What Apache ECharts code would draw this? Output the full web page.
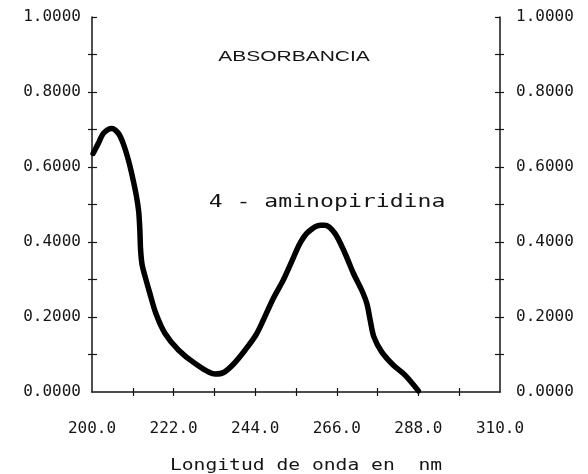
<!DOCTYPE html>
<html>
<head>
<meta charset="utf-8">
<script src="https://cdn.jsdelivr.net/npm/echarts@6/dist/echarts.min.js"></script>
<style>html,body{margin:0;padding:0;background:#fff}#c{width:588px;height:474px}</style>
</head>
<body>
<div id="c"></div>
<script>
// ---- data ----
const wavelength = [200.3,201.7,203.1,205.3,207.1,208.4,209.8,210.9,212.0,212.6,212.9,213.1,213.5,214.4,215.6,217.2,219.7,223.3,227.8,233.2,235.5,238.3,241.3,244.2,246.2,248.9,251.6,253.8,256.1,258.3,261.5,262.8,265.5,268.2,270.5,272.7,274.1,275.0,276.0,278.1,281.2,284.4,288.0];
const absorbance = [0.636,0.663,0.690,0.703,0.690,0.663,0.619,0.574,0.521,0.480,0.432,0.380,0.340,0.305,0.263,0.210,0.156,0.112,0.076,0.048,0.052,0.076,0.112,0.152,0.192,0.250,0.299,0.347,0.397,0.427,0.445,0.445,0.423,0.370,0.316,0.272,0.236,0.192,0.147,0.107,0.072,0.045,0.003];
const xLabelValues = [200,222,244,266,288,310];
const xTickValues = [211,222,233,244,255,266,277,288,299];
const yLabelValues = [0,0.2,0.4,0.6,0.8,1.0];
const yTickValues = [0.1,0.2,0.3,0.4,0.5,0.6,0.7,0.8,0.9];
const yTopTick = [1.0];
const titleText = 'ABSORBANCIA';
const seriesName = '4 - aminopiridina';
const xAxisName = 'Longitud de onda en  nm';

const ink = '#151515';
const labelFont = {color: ink, fontFamily: 'DejaVu Sans Mono', fontSize: 16};

function yAx(pos, inside, ticks, showLabel, showLine) {
  return {
    type: 'value', position: pos, min: 0, max: 1,
    axisLine: {show: showLine, lineStyle: {color: ink, width: 1.5}},
    axisTick: {show: true, inside: inside, length: inside ? 5 : 4, customValues: ticks, lineStyle: {color: ink, width: 1.2}},
    axisLabel: showLabel ? Object.assign({show: true, customValues: yLabelValues, margin: pos === 'left' ? 11 : 16,
      formatter: v => v.toFixed(4)}, labelFont) : {show: false},
    splitLine: {show: false}
  };
}
function xAx(inside, showLabel, showLine) {
  return {
    type: 'value', position: 'bottom', min: 200, max: 310,
    axisLine: {show: showLine, onZero: false, lineStyle: {color: ink, width: 1.5}},
    axisTick: {show: true, inside: inside, length: 4, customValues: xTickValues, lineStyle: {color: ink, width: 1.2}},
    axisLabel: showLabel ? Object.assign({show: true, customValues: xLabelValues, margin: 29,
      formatter: v => v.toFixed(1)}, labelFont) : {show: false},
    splitLine: {show: false}
  };
}

const chart = echarts.init(document.getElementById('c'));
chart.setOption({
  animation: false,
  backgroundColor: '#fff',
  grid: {left: 92, right: 88, top: 17, bottom: 82},
  xAxis: [xAx(false, true, true), xAx(true, false, false)],
  yAxis: [
    yAx('left', true, yTickValues.concat(yTopTick), true, true),
    yAx('left', false, yTickValues, false, false),
    yAx('right', true, yTickValues.concat(yTopTick), true, true),
    yAx('right', false, yTickValues, false, false)
  ],
  series: [{
    name: seriesName, type: 'line', xAxisIndex: 0, yAxisIndex: 0,
    data: wavelength.map((w, i) => [w, absorbance[i]]),
    showSymbol: false, smooth: 0.3,
    lineStyle: {color: '#000', width: 5.5, cap: 'round', join: 'round'}
  }],
  graphic: [
    {type: 'text', x: 294, y: 57, scaleX: 1.4,
      style: {text: titleText, fontFamily: 'Liberation Sans', fontSize: 15, fill: ink, align: 'center', verticalAlign: 'middle'}},
    {type: 'text', x: 327, y: 203, scaleX: 1.36,
      style: {text: seriesName, fontFamily: 'DejaVu Sans Mono', fontSize: 17, fill: ink, align: 'center', verticalAlign: 'middle'}},
    {type: 'text', x: 306, y: 466, scaleX: 1.31,
      style: {text: xAxisName, fontFamily: 'DejaVu Sans Mono', fontSize: 15, fill: ink, align: 'center', verticalAlign: 'middle'}}
  ]
});
</script>
</body>
</html>
